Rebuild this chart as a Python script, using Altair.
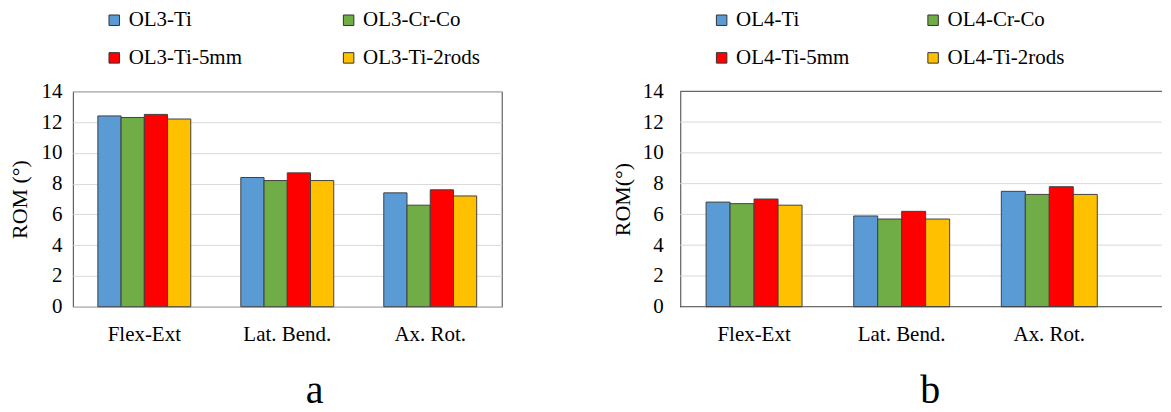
import altair as alt
import pandas as pd

categories = ["Flex-Ext", "Lat. Bend.", "Ax. Rot."]
ticks = [0, 2, 4, 6, 8, 10, 12, 14]

series_a = ["OL3-Ti", "OL3-Cr-Co", "OL3-Ti-5mm", "OL3-Ti-2rods"]
ol3_ti = [12.4, 8.4, 7.4]
ol3_crco = [12.3, 8.2, 6.6]
ol3_ti5mm = [12.5, 8.7, 7.6]
ol3_ti2rods = [12.2, 8.2, 7.2]

series_b = ["OL4-Ti", "OL4-Cr-Co", "OL4-Ti-5mm", "OL4-Ti-2rods"]
ol4_ti = [6.8, 5.9, 7.5]
ol4_crco = [6.7, 5.7, 7.3]
ol4_ti5mm = [7.0, 6.2, 7.8]
ol4_ti2rods = [6.6, 5.7, 7.3]

colors = ["#5B9BD5", "#70AD47", "#FF0000", "#FFC000"]

FONT = "Liberation Serif"
EDGE = "#404040"
GRID = "#D9D9D9"


def long_df(series, arrays):
    rows = []
    for s, arr in zip(series, arrays):
        for c, v in zip(categories, arr):
            rows.append({"category": c, "series": s, "value": v})
    return pd.DataFrame(rows)


def panel(series, arrays, ytitle, letter, width, height, letter_x, letter_y,
          label_pad, title_pad, leg_x, col_pad, boxed, ext_width):
    df = long_df(series, arrays)
    yaxis = alt.Axis(title=ytitle, values=ticks, labelFont=FONT,
                     labelFontSize=21, labelColor="black",
                     labelOverlap=False,
                     labelPadding=label_pad, ticks=False,
                     domain=not boxed, domainColor=EDGE,
                     grid=boxed, gridColor=GRID, gridWidth=1,
                     titleFont=FONT, titleFontSize=22,
                     titleFontWeight="normal", titleColor="black",
                     titlePadding=title_pad)
    yscale = alt.Scale(domain=[0, 14], nice=False)
    bars = alt.Chart(df).mark_bar(stroke=EDGE, strokeWidth=1).encode(
        x=alt.X("category:N", sort=categories,
                scale=alt.Scale(paddingInner=0.35, paddingOuter=0.175),
                axis=alt.Axis(title=letter, labelAngle=0, labelFont=FONT,
                              labelFontSize=21, labelColor="black",
                              labelPadding=17, ticks=False, domain=False,
                              titleFont=FONT, titleFontSize=40,
                              titleFontWeight="normal", titleColor="black",
                              titleX=letter_x, titleY=letter_y,
                              titleBaseline="alphabetic", titleAlign="center")),
        xOffset=alt.XOffset("series:N", sort=series,
                            scale=alt.Scale(paddingInner=0, paddingOuter=0)),
        y=alt.Y("value:Q", scale=yscale, axis=yaxis),
        color=alt.Color("series:N", sort=series,
                        scale=alt.Scale(domain=series, range=colors),
                        legend=alt.Legend(title=None, orient="none",
                                          direction="horizontal",
                                          legendX=leg_x, legendY=-82,
                                          columns=2, columnPadding=col_pad,
                                          rowPadding=16, padding=0,
                                          symbolType="square", symbolSize=110,
                                          symbolStrokeColor="#333333",
                                          symbolStrokeWidth=1,
                                          labelFont=FONT, labelFontSize=21,
                                          labelColor="black", labelOffset=4)),
    )
    if boxed:
        view = alt.ViewBackground(stroke=EDGE, strokeWidth=1)
        chart = bars
    else:
        view = alt.ViewBackground(stroke="transparent")
        grid_df = pd.DataFrame({"value": ticks[1:-1]})
        frame_df = pd.DataFrame({"value": [ticks[0], ticks[-1]]})
        grid = alt.Chart(grid_df).mark_rule(color=GRID, strokeWidth=1).encode(
            y=alt.Y("value:Q", scale=yscale, axis=yaxis),
            x=alt.value(0), x2=alt.value(ext_width))
        frame = alt.Chart(frame_df).mark_rule(color=EDGE, strokeWidth=1).encode(
            y=alt.Y("value:Q", scale=yscale, axis=yaxis),
            x=alt.value(0), x2=alt.value(ext_width))
        chart = alt.layer(grid, bars, frame)
    return chart.properties(width=width, height=height, view=view)


left = panel(series_a, [ol3_ti, ol3_crco, ol3_ti5mm, ol3_ti2rods], "ROM (°)", "a",
             430, 216, 242, 96, 11, 9, 31, 96, True, 430)
right = panel(series_b, [ol4_ti, ol4_crco, ol4_ti5mm, ol4_ti2rods], "ROM(°)", "b",
              444, 216, 250, 96, 17, 8, 31, 73, False, 483)

chart = alt.hconcat(left, right, spacing=108).resolve_scale(
    color="independent", x="independent", y="independent", xOffset="independent"
).properties(
    padding={"left": 0, "top": 0, "right": 0, "bottom": 0}
).configure(
    background="white", font=FONT,
)

chart.save("out.html", embed_options={"renderer": "svg", "actions": False})
